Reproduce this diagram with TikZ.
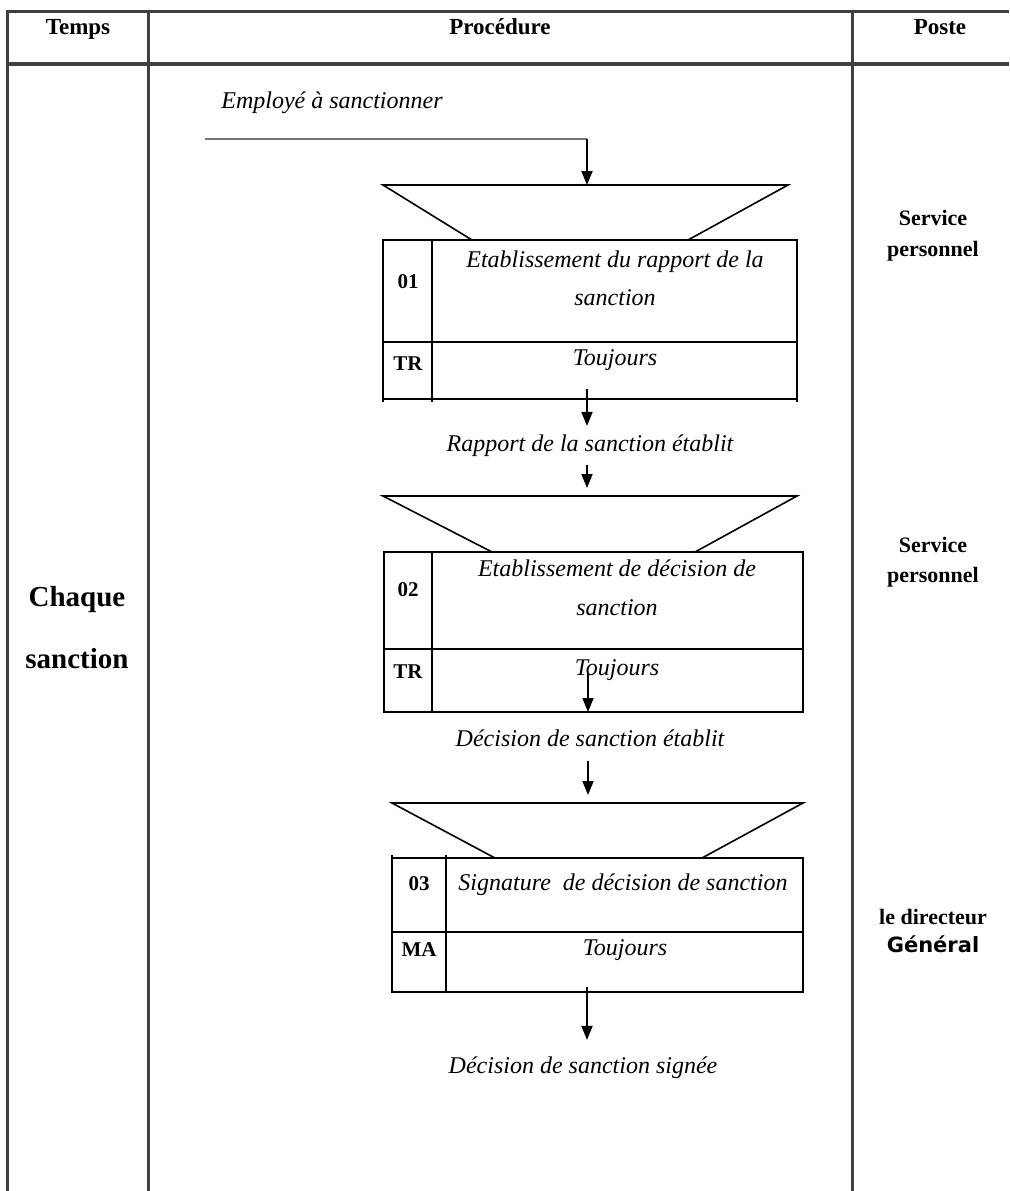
\documentclass[tikz,border=0pt]{standalone}
\usepackage{fontspec}
\setmainfont{Liberation Serif}
\newfontfamily\gsans{DejaVu Sans}
\usetikzlibrary{arrows.meta}
\begin{document}
\begin{tikzpicture}[x=0.5pt,y=-0.5pt,
  grid/.style={line width=1.5pt, draw=black!75},
  boxline/.style={line width=0.9pt},
  trap/.style={line width=0.8pt},
  flow/.style={line width=0.9pt,-{Triangle[length=7pt,width=5.5pt]}},
  head/.style={font=\bfseries\fontsize{11.5}{13}\selectfont, anchor=base, inner sep=0pt},
  big/.style={font=\bfseries\fontsize{14.5}{17}\selectfont, anchor=base, inner sep=0pt},
  poste/.style={font=\bfseries\fontsize{11}{13}\selectfont, anchor=base, inner sep=0pt},
  lbl/.style={font=\bfseries\fontsize{10.5}{12}\selectfont, anchor=base, inner sep=0pt},
  it/.style={font=\itshape\fontsize{12}{14}\selectfont, anchor=base, inner sep=0pt},
]
\useasboundingbox (0,0) rectangle (1009,1191);
% table
\draw[grid] (7,1191) -- (7,11) -- (1009,11);
\draw[grid, line width=2pt] (7,64) -- (1009,64);
\draw[grid] (148,11) -- (148,1191);
\draw[grid] (852,11) -- (852,1191);
\node[head] (hT) at (78,34) {Temps};
\node[head] (hP) at (500,34) {Procédure};
\node[head] (hS) at (940,34) {Poste};
% time column
\node[big] (ch1) at (77,606) {Chaque};
\node[big] (ch2) at (77,668) {sanction};
% poste column
\node[poste] (p1a) at (933,225) {Service};
\node[poste] (p1b) at (933,256) {personnel};
\node[poste] (p2a) at (933,552) {Service};
\node[poste] (p2b) at (933,582) {personnel};
\node[poste] (p3a) at (933,924) {le directeur};
\node[poste, font=\gsans\bfseries\fontsize{10.5}{13}\selectfont] (p3b) at (933,952) {Général};
% input
\node[it] (emp) at (332,108) {Employé à sanctionner};
\coordinate (e0) at (205,139);
\coordinate (e1) at (587,139);
\coordinate (t1) at (587,185);
\draw[line width=0.9pt, draw=black!55] (e0) -- (e1);
\draw[flow] (e1) -- (t1);
% step 1
\draw[trap] (472,240) -- (383,185) -- (788,185) -- (688,240);
\draw[boxline] (383,240) rectangle (797,399);
\draw[boxline] (432,240) -- (432,402);
\draw[boxline] (383,342) -- (797,342);
\draw[boxline] (383,399) -- (383,402) (797,399) -- (797,402);
\node[lbl] (n1) at (408,288) {01};
\node[lbl] (r1) at (408,370) {TR};
\node[it] (s1a) at (615,267) {Etablissement du rapport de la};
\node[it] (s1b) at (615,305) {sanction};
\node[it] (f1) at (615,365) {Toujours};
\coordinate (b1) at (587,389);
\node[it, inner sep=4pt] (o1) at (590,451) {Rapport de la sanction établit};
\draw[flow] (b1) -- (b1 |- o1.north);
\coordinate (t2) at (587,496);
\draw[flow, shorten >=4pt] (o1.south -| t2) -- (t2);
% step 2
\draw[trap] (492,552) -- (383,496) -- (797,496) -- (695,552);
\draw[boxline] (384,552) rectangle (803,712);
\draw[boxline] (432,552) -- (432,712);
\draw[boxline] (384,649) -- (803,649);
\node[lbl] (n2) at (408,596) {02};
\node[lbl] (r2) at (408,678) {TR};
\node[it] (s2a) at (617,576) {Etablissement de décision de};
\node[it] (s2b) at (617,615) {sanction};
\node[it] (f2) at (617,675) {Toujours};
\coordinate (c2) at (588,673);
\coordinate (b2) at (588,712);
\draw[flow] (c2) -- (b2);
\node[it, inner sep=4pt] (o2) at (590,746) {Décision de sanction établit};
\coordinate (t3) at (588,803);
\draw[flow, shorten <=3pt, shorten >=4pt] (o2.south -| t3) -- (t3);
% step 3
\draw[trap] (495,858) -- (392,803) -- (803,803) -- (702,858);
\draw[boxline] (392,858) rectangle (803,992);
\draw[boxline] (446,855) -- (446,992);
\draw[boxline] (392,855) -- (392,858);
\draw[boxline] (392,932) -- (803,932);
\node[lbl] (n3) at (419,890) {03};
\node[lbl] (r3) at (419,956) {MA};
\node[it] (s3) at (623,890) {Signature\ \ de décision de sanction};
\node[it] (f3) at (625,955) {Toujours};
\coordinate (b3) at (587,987);
\node[it, inner sep=4pt] (o3) at (583,1073) {Décision de sanction signée};
\draw[flow, shorten >=4pt] (b3) -- (b3 |- o3.north);
\end{tikzpicture}
\end{document}
